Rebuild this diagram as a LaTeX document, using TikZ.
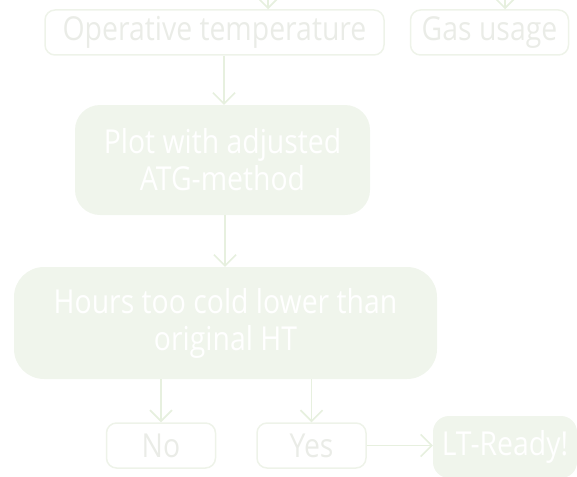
\documentclass[tikz,border=0pt]{standalone}
\usepackage{fontspec}
\setmainfont[FakeStretch=0.86]{Open Sans}
\usetikzlibrary{arrows.meta}
\definecolor{fillg}{HTML}{F0F5EC}
\definecolor{lineg}{HTML}{EEF3E9}
\definecolor{txtg}{HTML}{EAECE7}
\definecolor{arrg}{HTML}{E7F0DF}
\tikzset{
  outbox/.style={draw=lineg, line width=1.5pt, rounded corners=10pt, text=txtg, inner sep=0pt, align=center, font=\fontsize{33}{37}\selectfont},
  fillbox/.style={fill=fillg, draw=none, rounded corners=#1, text=white, inner sep=0pt, align=center, font=\fontsize{33}{37}\selectfont},
  conn/.style={draw=arrg, line width=1.6pt, -{Straight Barb[length=11pt,width=22pt,line width=1.6pt]}}
}
\begin{document}
\begin{tikzpicture}[x=1pt,y=-1pt]
\useasboundingbox (0,0) rectangle (577,476);
\clip (0,0) rectangle (577,476);
\node[outbox, minimum width=339pt, minimum height=45pt] (op) at (214.5,32.5) {Operative temperature};
\node[outbox, minimum width=158pt, minimum height=45pt] (gas) at (489.5,32.5) {Gas usage};
\node[fillbox=25pt, minimum width=295pt, minimum height=110pt] (plot) at (222.5,160) {Plot with adjusted\\ATG-method};
\node[fillbox=30pt, minimum width=423pt, minimum height=112pt] (hours) at (225.5,323) {Hours too cold lower than\\original HT};
\node[outbox, minimum width=109pt, minimum height=45pt] (no) at (161,445.5) {No};
\node[outbox, minimum width=109pt, minimum height=45pt] (yes) at (311.5,445.5) {Yes};
\node[fillbox=16pt, minimum width=144pt, minimum height=62pt] (lt) at (505,447) {LT-Ready!};
\coordinate (t1) at (268,-8);
\coordinate (t2) at (505,-8);
\draw[conn] (t1) -- (t1 |- op.north);
\draw[conn] (t2) -- (t2 |- gas.north);
\draw[conn] (op.south -| 224,0) -- (plot.north -| 224,0);
\draw[conn] (plot.south -| 225,0) -- (hours.north -| 225,0);
\draw[conn] (hours.south -| no) -- (no.north);
\draw[conn] (hours.south -| yes) -- (yes.north);
\draw[conn] (yes.east) -- (lt.west |- yes.east);
\end{tikzpicture}
\end{document}
